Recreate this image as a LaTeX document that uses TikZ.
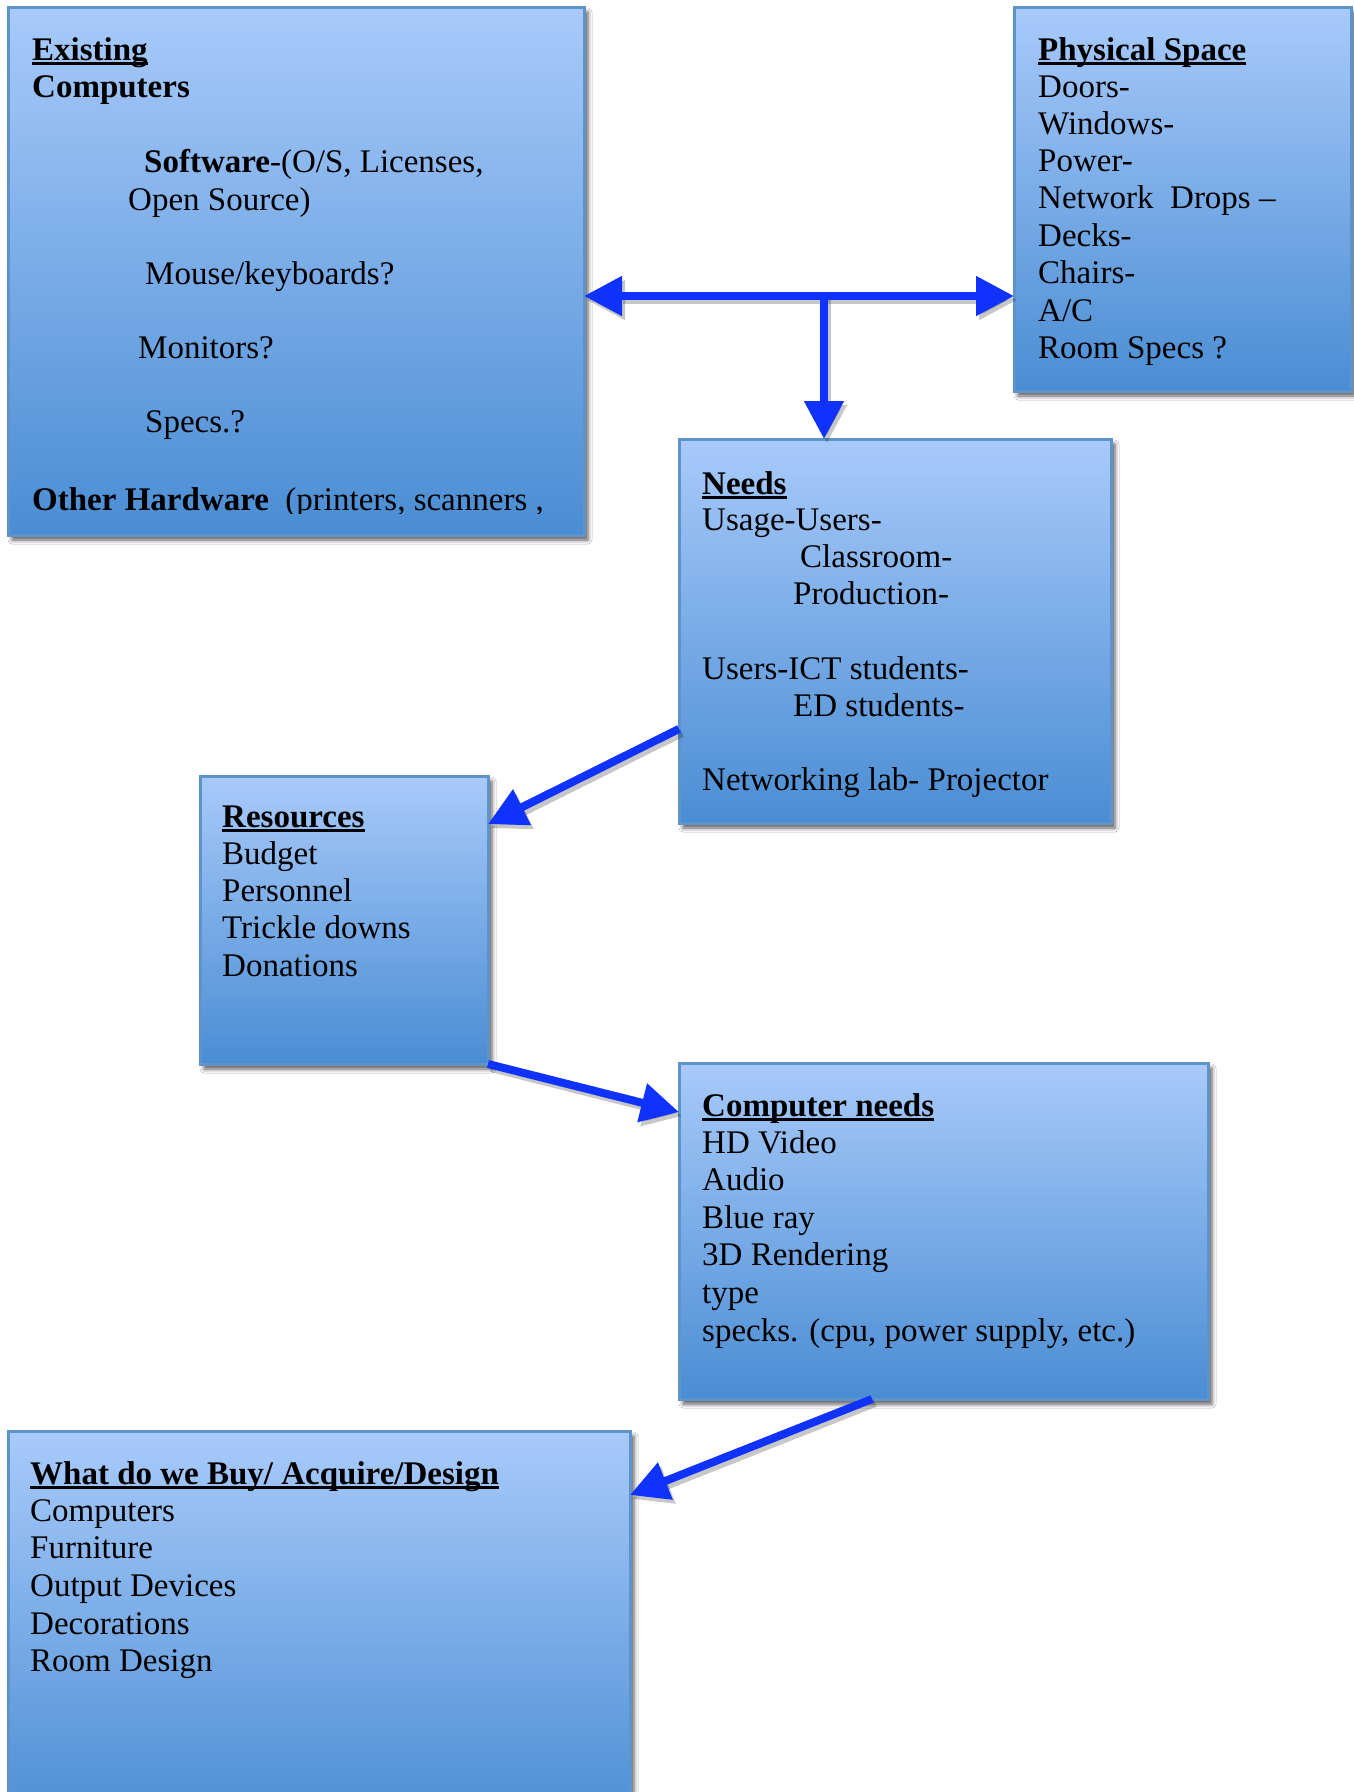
\documentclass[tikz,border=0pt]{standalone}
\usepackage{fontspec}
\setmainfont{Liberation Serif}
\usetikzlibrary{arrows.meta,calc,shadows,shadows.blur}
\definecolor{boxtop}{HTML}{A8CAFA}
\definecolor{boxbot}{HTML}{4A8DD3}
\definecolor{boxline}{HTML}{5E93CC}
\definecolor{arrblue}{HTML}{1032FF}
\newcommand\hd[1]{\setbox0\hbox{\bfseries #1}\rlap{\rule[-4.5pt]{\wd0}{2.4pt}}\box0}
\newcommand\tl[4]{\node[txt] (#1) at (#2,#3) {#4};}
\begin{document}
\begin{tikzpicture}[x=1pt,y=-1pt,
  box/.style={draw=boxline, line width=3pt, top color=boxtop, bottom color=boxbot,
    anchor=north west, inner sep=0pt, outer sep=0pt,
    blur shadow={shadow xshift=4pt, shadow yshift=-5pt, shadow blur radius=4pt, shadow opacity=65}},
  txt/.style={anchor=base west, inner sep=0pt, font=\fontsize{33}{38}\selectfont},
  arr/.style={draw=arrblue, line width=8pt, -{Triangle[length=38pt,width=38pt]}},
  arrs/.style={draw=black, opacity=0.22, line width=8pt, -{Triangle[length=38pt,width=38pt]}}]
\clip (0,0) rectangle (1354,1792);
\fill[white] (0,0) rectangle (1354,1792);
% boxes
\node[box, minimum width=576pt, minimum height=528pt] (ec) at (8,7) {};
\node[box, minimum width=337pt, minimum height=384pt] (ps) at (1014,7) {};
\node[box, minimum width=432pt, minimum height=384pt] (nd) at (679,439) {};
\node[box, minimum width=288pt, minimum height=288pt] (rs) at (200,776) {};
\node[box, minimum width=529pt, minimum height=336pt] (cn) at (679,1063) {};
\node[box, minimum width=622pt, minimum height=400pt] (wb) at (8,1431) {};
% connector coordinates
\coordinate (j) at (824,296);
\coordinate (a1) at ($(nd.north west)!0.755!(nd.south west)$);
\coordinate (a2) at ($(rs.north east)!0.167!(rs.south east)$);
\coordinate (b2) at ($(cn.north west)!0.146!(cn.south west)$);
\coordinate (c1) at ($(cn.south west)!0.365!(cn.south east)$);
\coordinate (c2) at ($(wb.north east)+(0,64)$);
% arrow shadows
\begin{scope}[transform canvas={shift={(3pt,-4pt)}}]
\draw[arrs, {Triangle[length=38pt,width=38pt]}-{Triangle[length=38pt,width=38pt]}] (ec.east |- j) -- (ps.west |- j);
\draw[arrs] (j) -- (j |- nd.north);
\draw[arrs] (a1) -- (a2);
\draw[arrs] (rs.south east) -- (b2);
\draw[arrs] (c1) -- (c2);
\end{scope}
% arrows
\draw[arr, {Triangle[length=38pt,width=38pt]}-{Triangle[length=38pt,width=38pt]}] (ec.east |- j) -- (ps.west |- j);
\draw[arr] (j) -- (j |- nd.north);
\draw[arr] (a1) -- (a2);
\draw[arr] (rs.south east) -- (b2);
\draw[arr] (c1) -- (c2);
% Existing computers
\tl{ec1}{32}{60}{\hd{Existing}}
\tl{ec2}{32}{97}{\bfseries Computers}
\tl{ec3}{144}{172}{\textbf{Software}-(O/S, Licenses,}
\tl{ec4}{128}{210}{Open Source)}
\tl{ec5}{145}{284}{Mouse/keyboards?}
\tl{ec6}{138}{358}{Monitors?}
\tl{ec7}{145}{432}{Specs.?}
\begin{scope}
\clip (8,7) rectangle (584,513);
\tl{ec8}{32}{510}{\textbf{Other Hardware}\ \ (printers, scanners ,}
\end{scope}
% Physical space
\tl{ps1}{1038}{60}{\hd{Physical Space}}
\tl{ps2}{1038}{97}{Doors-}
\tl{ps3}{1038}{134}{Windows-}
\tl{ps4}{1038}{171}{Power-}
\tl{ps5}{1038}{208}{Network\ \ Drops –}
\tl{ps6}{1038}{246}{Decks-}
\tl{ps7}{1038}{283}{Chairs-}
\tl{ps8}{1038}{321}{A/C}
\tl{ps9}{1038}{358}{Room Specs ?}
% Needs
\tl{nd1}{702}{494}{\hd{Needs}}
\tl{nd2}{702}{530}{Usage-Users-}
\tl{nd3}{800}{567}{Classroom-}
\tl{nd4}{793}{604}{Production-}
\tl{nd5}{702}{679}{Users-ICT students-}
\tl{nd6}{793}{716}{ED students-}
\tl{nd7}{702}{790}{Networking lab- Projector}
% Resources
\tl{rs1}{222}{827}{\hd{Resources}}
\tl{rs2}{222}{864}{Budget}
\tl{rs3}{222}{901}{Personnel}
\tl{rs4}{222}{938}{Trickle downs}
\tl{rs5}{222}{976}{Donations}
% Computer needs
\tl{cn1}{702}{1116}{\hd{Computer needs}}
\tl{cn2}{702}{1153}{HD Video}
\tl{cn3}{702}{1190}{Audio}
\tl{cn4}{702}{1228}{Blue ray}
\tl{cn5}{702}{1265}{3D Rendering}
\tl{cn6}{702}{1303}{type}
\tl{cn7}{702}{1341}{specks. (cpu, power supply, etc.)}
% What do we buy
\tl{wb1}{30}{1484}{\hd{What do we Buy/ Acquire/Design}}
\tl{wb2}{30}{1521}{Computers}
\tl{wb3}{30}{1558}{Furniture}
\tl{wb4}{30}{1596}{Output Devices}
\tl{wb5}{30}{1634}{Decorations}
\tl{wb6}{30}{1671}{Room Design}
\end{tikzpicture}
\end{document}
